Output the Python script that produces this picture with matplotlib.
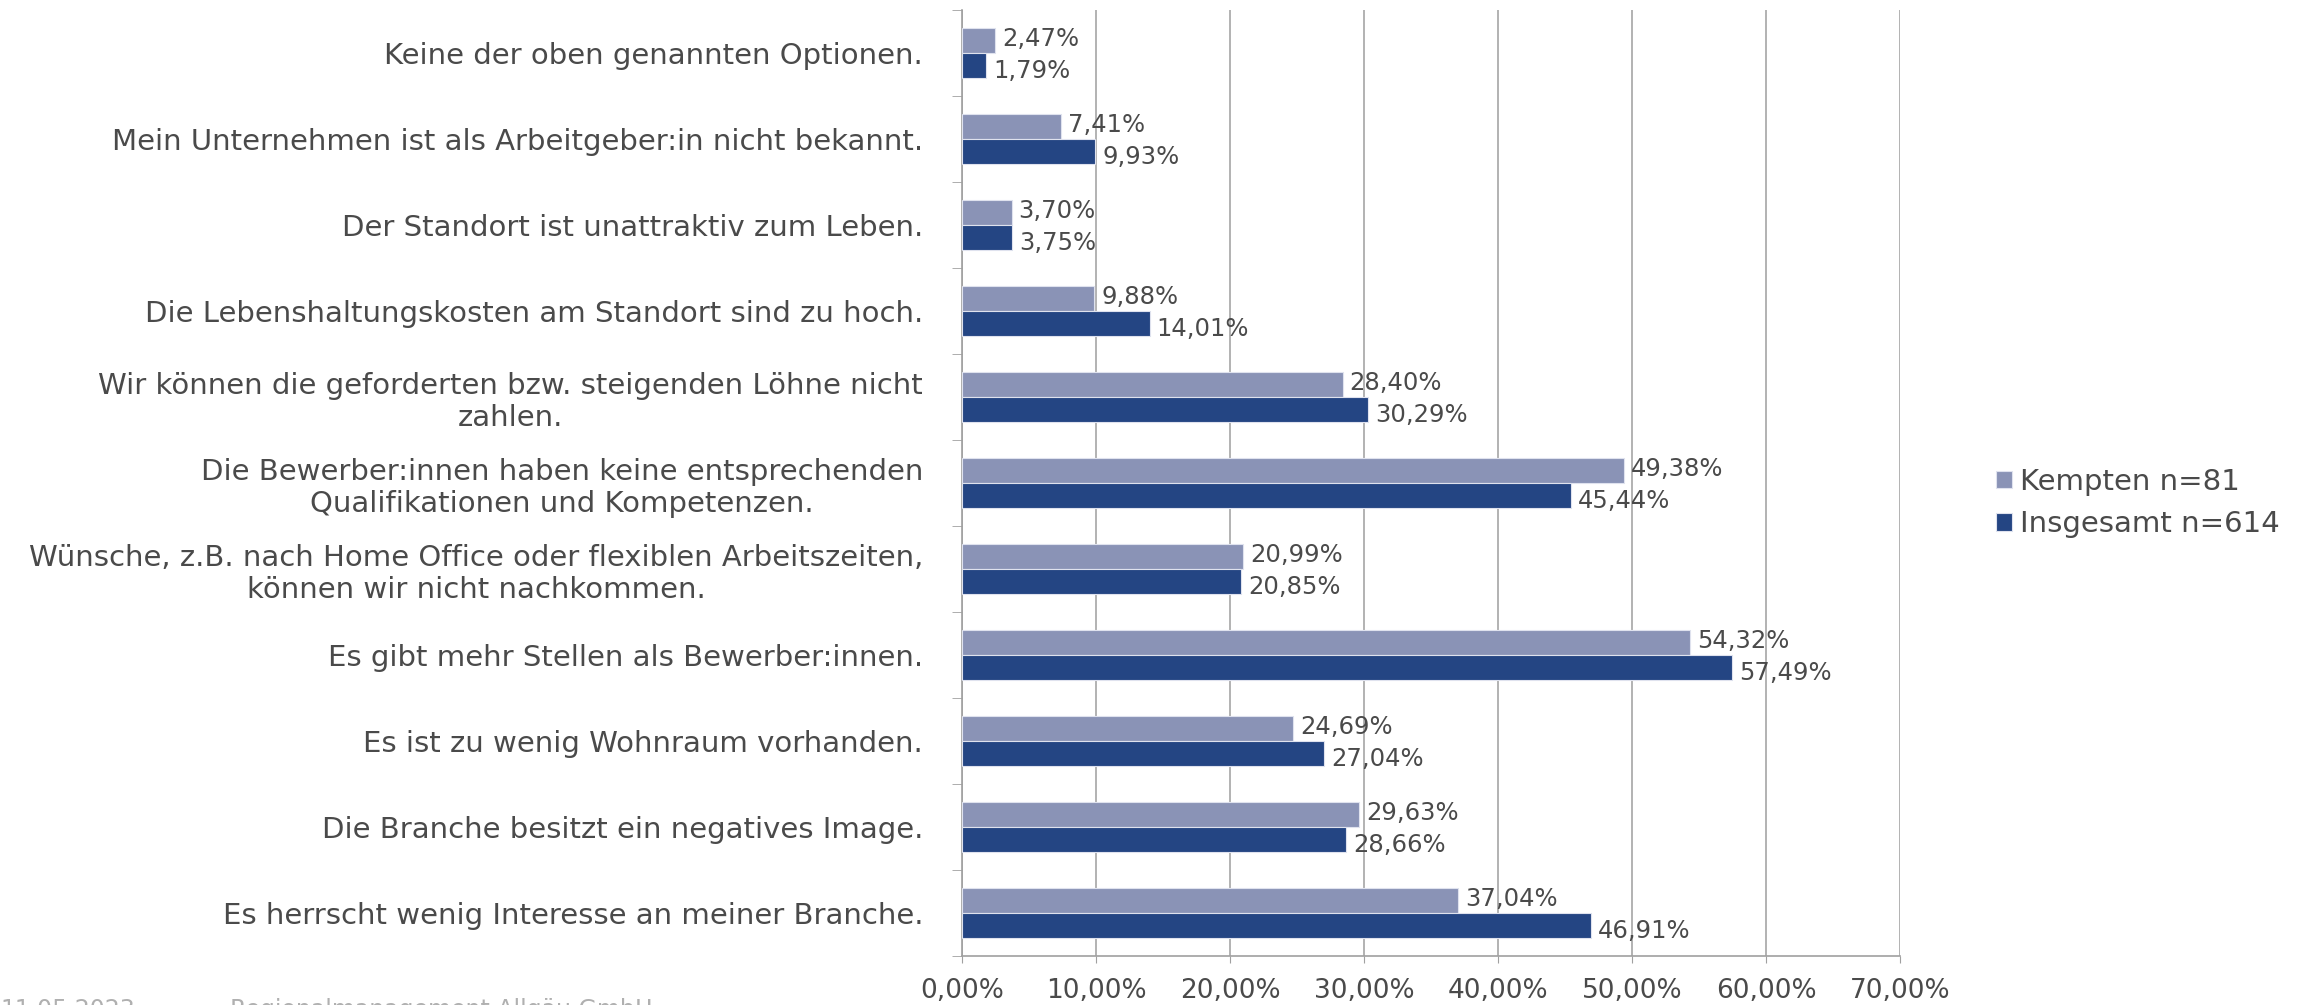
import numpy as np
import matplotlib.pyplot as plt

kategorien = [
    "Keine der oben genannten Optionen.",
    "Mein Unternehmen ist als Arbeitgeber:in nicht bekannt.",
    "Der Standort ist unattraktiv zum Leben.",
    "Die Lebenshaltungskosten am Standort sind zu hoch.",
    "Wir können die geforderten bzw. steigenden Löhne nicht\nzahlen.",
    "Die Bewerber:innen haben keine entsprechenden\nQualifikationen und Kompetenzen.",
    "Wünsche, z.B. nach Home Office oder flexiblen Arbeitszeiten,\nkönnen wir nicht nachkommen.",
    "Es gibt mehr Stellen als Bewerber:innen.",
    "Es ist zu wenig Wohnraum vorhanden.",
    "Die Branche besitzt ein negatives Image.",
    "Es herrscht wenig Interesse an meiner Branche.",
]
kempten = [2.47, 7.41, 3.70, 9.88, 28.40, 49.38, 20.99, 54.32, 24.69, 29.63, 37.04]
insgesamt = [1.79, 9.93, 3.75, 14.01, 30.29, 45.44, 20.85, 57.49, 27.04, 28.66, 46.91]
x_ticks = [0, 10, 20, 30, 40, 50, 60, 70]

farbe_k = "#8a93b6"
farbe_i = "#244583"
text_farbe = "#4a4a4a"

def prozent(v):
    return f"{v:.2f}%".replace(".", ",")

fig = plt.figure(figsize=(23.11, 10.05), dpi=100)
ax = fig.add_axes([962 / 2311, 49 / 1005, 938 / 2311, 946 / 1005])

n = len(kategorien)
y = np.arange(n)[::-1]
h = 0.285

ax.barh(y + h / 2, kempten, height=h, color=farbe_k, edgecolor="#dfe2ee", linewidth=0.8,
        label="Kempten n=81", zorder=3)
ax.barh(y - h / 2, insgesamt, height=h, color=farbe_i, edgecolor="#dfe2ee", linewidth=0.8,
        label="Insgesamt n=614", zorder=3)

# Datenbeschriftungen
for yi, vk, vi in zip(y, kempten, insgesamt):
    ax.annotate(prozent(vk), (vk, yi + h / 2), xytext=(5, 1.5), textcoords="offset points",
                va="center", ha="left", fontsize=17.5, color=text_farbe, zorder=4)
    ax.annotate(prozent(vi), (vi, yi - h / 2), xytext=(5, -4), textcoords="offset points",
                va="center", ha="left", fontsize=17.5, color=text_farbe, zorder=4)

ax.set_xlim(0, 70)
ax.set_ylim(-0.5, n - 0.5)
ax.set_xticks(x_ticks)
ax.set_xticklabels([prozent(v) for v in x_ticks], fontsize=19, color=text_farbe)
ax.set_yticks(y)
ax.set_yticklabels(kategorien, fontsize=21, color=text_farbe, multialignment="center")
ax.set_yticks(np.arange(n + 1) - 0.5, minor=True)
ax.tick_params(axis="y", which="major", length=0, pad=28)
ax.tick_params(axis="y", which="minor", length=7, color="#a0a0a0")
ax.tick_params(axis="x", length=5, color="#a0a0a0", pad=11)

ax.grid(axis="x", color="#a6a6a6", linewidth=1.2, zorder=0)
for s in ["top", "right"]:
    ax.spines[s].set_visible(False)
for s in ["left", "bottom"]:
    ax.spines[s].set_color("#a0a0a0")
    ax.spines[s].set_linewidth(1.2)

fig.legend(loc="center left", bbox_to_anchor=(1996 / 2311, 0.4995), frameon=False,
           fontsize=21, labelcolor=text_farbe, handlelength=0.55, handleheight=0.55,
           handletextpad=0.28, labelspacing=0.5, borderpad=0, borderaxespad=0)

fig.text(0.0, 7 / 1005, "11.05.2023", fontsize=17, color="#b0b0b0", va="top", ha="left")
fig.text(230 / 2311, 7 / 1005, "Regionalmanagement Allgäu GmbH", fontsize=17,
         color="#b0b0b0", va="top", ha="left")

fig.savefig("out.png", dpi=100)
